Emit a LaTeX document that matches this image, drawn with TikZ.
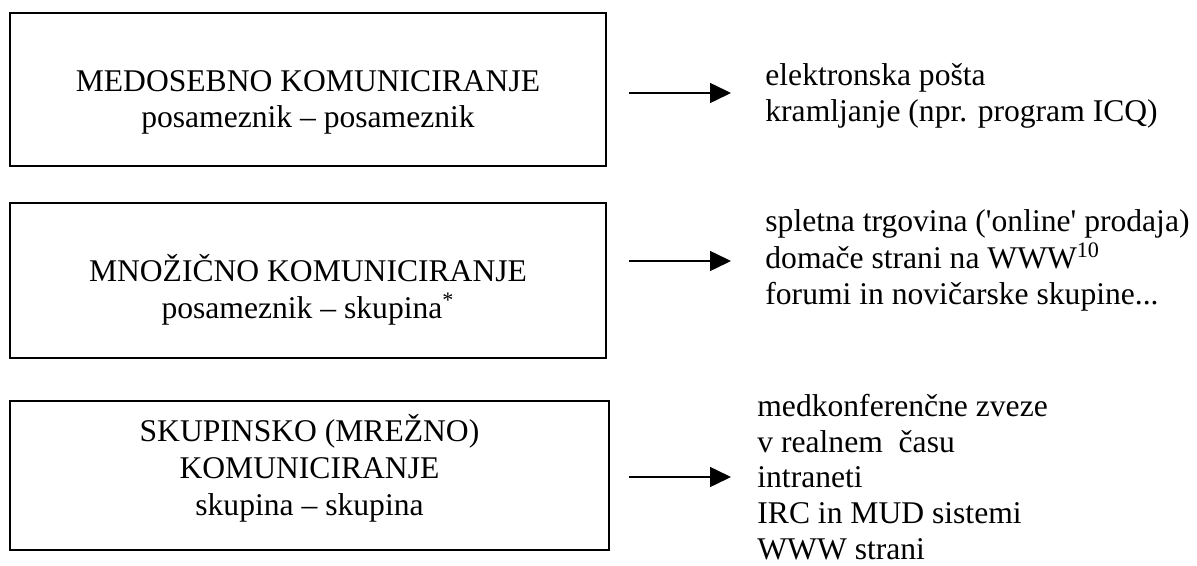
\documentclass[tikz,border=0pt]{standalone}
\usepackage{fontspec}
\setmainfont{Liberation Serif}[Ligatures=TeXOff]
\usetikzlibrary{arrows.meta}

\begin{document}
\begin{tikzpicture}[x=0.5pt,y=-0.5pt,
 okvir/.style={draw, line width=1pt, inner sep=0pt},
 napis/.style={font=\fontsize{15.8pt}{18.3pt}\selectfont, inner sep=0pt},
 pijl/.style={line width=0.75pt, -{Triangle[length=10.5pt,width=10pt]}}]
\useasboundingbox (0,0) rectangle (1197,566);
\node[okvir, minimum width=298pt, minimum height=76.5pt] (b1) at (308,89.5) {};
\node[okvir, minimum width=298pt, minimum height=77.5pt] (b2) at (308,280.5) {};
\node[okvir, minimum width=299.5pt, minimum height=74.5pt] (b3) at (309.5,475.5) {};
\node[napis, align=center, anchor=base] (t1) at (308,128) {MEDOSEBNO KOMUNICIRANJE\\posameznik – posameznik};
\node[napis, align=center, anchor=base] (t2) at (308,318) {MNOŽIČNO KOMUNICIRANJE\\posameznik – skupina\textsuperscript{*}};
\node[napis, align=center, anchor=base] (t3) at (309.5,515) {SKUPINSKO (MREŽNO)\\KOMUNICIRANJE\\skupina – skupina};
\node[napis, align=left, anchor=base west] (l1) at (765,122) {elektronska pošta\\kramljanje (npr. program ICQ)};
\node[napis, align=left, anchor=base west] (l2) at (765,305) {spletna trgovina ('online' prodaja)\\domače strani na WWW\textsuperscript{10}\\forumi in novičarske skupine...};
\node[napis, font=\fontsize{15.8pt}{17.8pt}\selectfont, align=left, anchor=base west] (l3) at (757,559) {medkonferenčne zveze\\v realnem \ času\\intraneti\\IRC in MUD sistemi\\WWW strani};
\coordinate (a1) at (629,93);
\coordinate (a2) at (629,261);
\coordinate (a3) at (629,477);
\draw[pijl, shorten >=17pt] (a1) -- (a1 -| l1.west);
\draw[pijl, shorten >=17pt] (a2) -- (a2 -| l2.west);
\draw[pijl, shorten >=13pt] (a3) -- (a3 -| l3.west);
\end{tikzpicture}
\end{document}
